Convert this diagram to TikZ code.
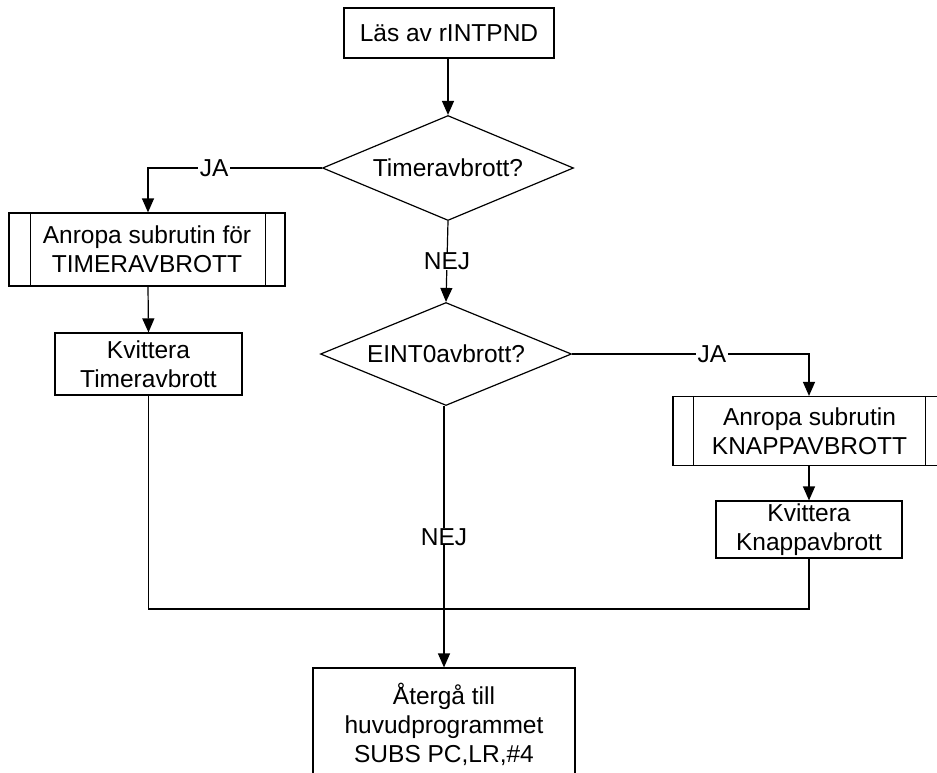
\documentclass[tikz,border=0pt]{standalone}
\usepackage{fontspec}
\setmainfont{Liberation Sans}
\usetikzlibrary{shapes.geometric,arrows.meta}
\begin{document}
\begin{tikzpicture}[x=1pt,y=-1pt,
  every node/.style={font=\fontsize{24.5}{29}\selectfont},
  box/.style={draw,line width=1.2pt,rectangle,inner sep=0pt,align=center},
  dec/.style={draw,line width=1.2pt,diamond,aspect=2.4,inner sep=0pt,align=center},
  conn/.style={line width=1.2pt},
  arr/.style={conn,-{Triangle[length=14pt,width=12pt]}},
  lbl/.style={fill=white,inner xsep=2pt,inner ysep=0pt}]
\clip (0,0) rectangle (937,772);
\fill[white] (0,0) rectangle (937,772);

\node[box,minimum width=210pt,minimum height=50pt] (top) at (449,33) {Läs av rINTPND};
\node[dec,minimum width=251pt,minimum height=105pt] (d1) at (448,168) {Timeravbrott?};
\node[box,minimum width=276pt,minimum height=73pt] (sub1) at (147,249.5) {Anropa subrutin för\\TIMERAVBROTT};
\node[box,minimum width=187pt,minimum height=62pt] (kv1) at (148.5,364) {Kvittera\\Timeravbrott};
\node[dec,minimum width=251pt,minimum height=103pt] (d2) at (446,354) {EINT0avbrott?};
\node[box,minimum width=273pt,minimum height=69pt] (sub2) at (809.5,431) {Anropa subrutin\\KNAPPAVBROTT};
\node[box,minimum width=186pt,minimum height=57pt] (kv2) at (809,529.5) {Kvittera\\Knappavbrott};
\node[box,minimum width=262pt,minimum height=112pt] (end) at (444,724) {Återgå till\\huvudprogrammet\\SUBS PC,LR,\#4};

\draw[conn] ([xshift=22pt]sub1.north west) -- ([xshift=22pt]sub1.south west);
\draw[conn] ([xshift=-20pt]sub1.north east) -- ([xshift=-20pt]sub1.south east);
\draw[conn] ([xshift=21pt]sub2.north west) -- ([xshift=21pt]sub2.south west);
\draw[conn] ([xshift=-21pt]sub2.north east) -- ([xshift=-21pt]sub2.south east);

\coordinate (m) at (444,609);

\draw[arr] (top.south -| d1.north) -- (d1.north);
\draw[arr] (d1.west) -- node[lbl,pos=0.62] (ja1) {JA} (d1.west -| 148,0) -- ([xshift=1pt]sub1.north);
\draw[arr] (d1.south) -- node[lbl,pos=0.5] (nej1) {NEJ} (d2.north);
\draw[arr] ([xshift=1pt]sub1.south) -- (kv1.north);
\draw[conn] (kv1.south) |- (m) -| (kv2.south);
\draw[arr] (d2.east) -- node[lbl,pos=0.59] (ja2) {JA} (d2.east -| kv2.north) -- (sub2.north -| kv2.north);
\draw[arr] (sub2.south -| kv2.north) -- (kv2.north);
\draw[arr] (d2.south -| end.north) -- node[lbl,pos=0.5] (nej2) {NEJ} (end.north);
\end{tikzpicture}
\end{document}
